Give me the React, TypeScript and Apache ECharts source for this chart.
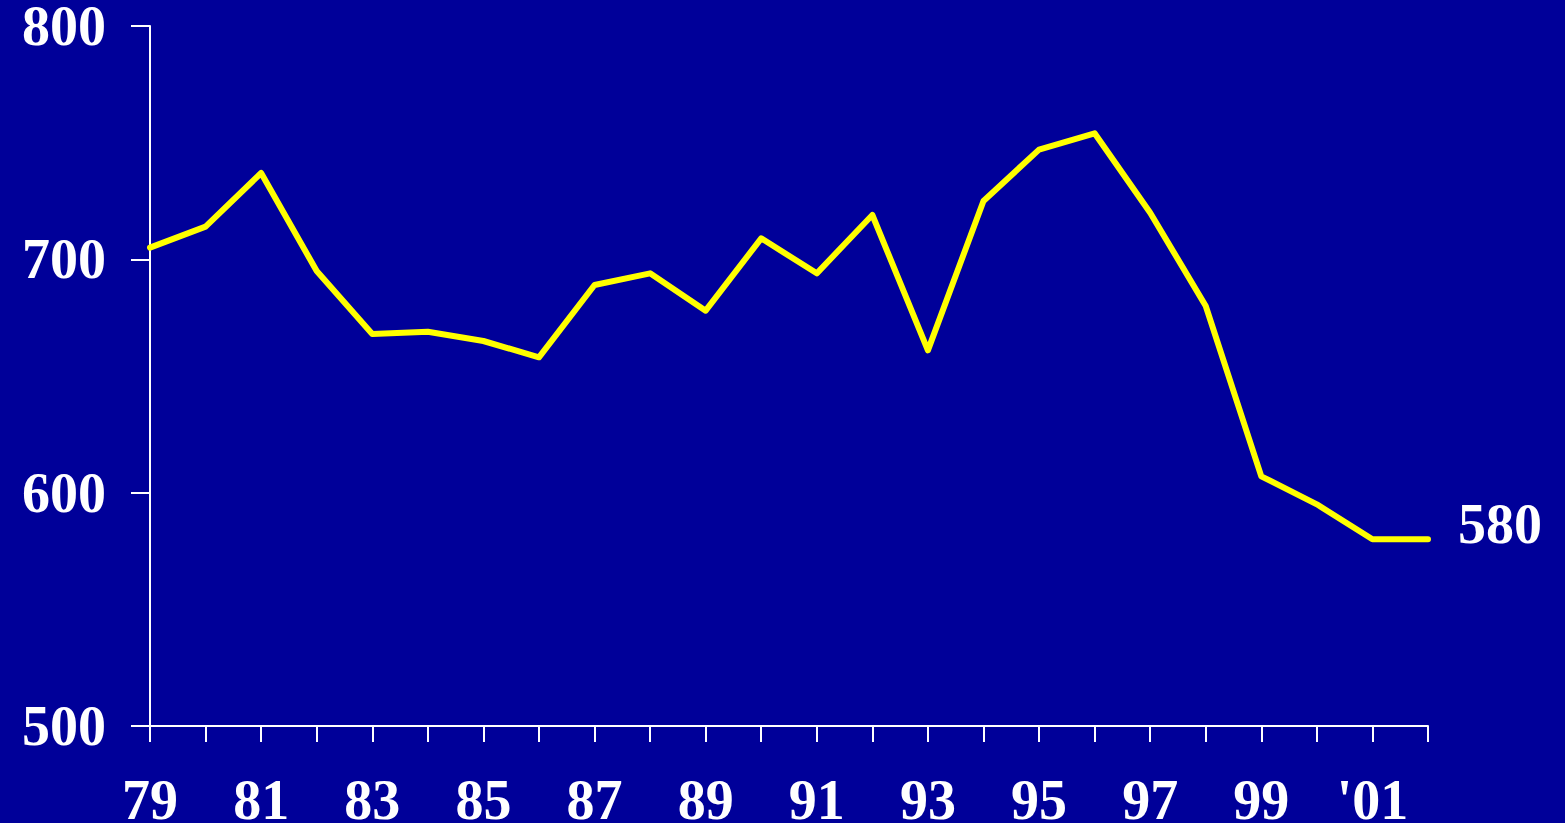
import React, { useEffect, useRef } from "react";
import * as echarts from "echarts";

const years = [
  "79", "80", "81", "82", "83", "84", "85", "86", "87", "88", "89", "90",
  "91", "92", "93", "94", "95", "96", "97", "98", "99", "'00", "'01", "'02",
];
const values = [
  705, 714, 737, 695, 668, 669, 665, 658, 689, 694, 678, 709,
  694, 719, 661, 725, 747, 754, 720, 680, 607, 595, 580, 580,
];
const yTicks = { min: 500, max: 800, interval: 100 };

const font = "'Liberation Serif', 'Times New Roman', serif";
const fs = 56;

export default function App() {
  const ref = useRef<HTMLDivElement>(null);
  useEffect(() => {
    if (!ref.current) return;
    const chart = echarts.init(ref.current, undefined, { renderer: "svg" });
    chart.setOption({
      animation: false,
      backgroundColor: "#000099",
      grid: { left: 150, right: 137, top: 26, bottom: 97, containLabel: false, outerBoundsMode: "none" },
      xAxis: {
        type: "category",
        data: years,
        boundaryGap: false,
        axisLine: { lineStyle: { color: "#ffffff", width: 2 } },
        axisTick: { interval: 0, length: 16, lineStyle: { color: "#ffffff", width: 2 } },
        axisLabel: {
          interval: 1,
          color: "#ffffff",
          fontFamily: font,
          fontWeight: "bold",
          fontSize: fs,
          lineHeight: 40,
          margin: 54,
        },
      },
      yAxis: {
        type: "value",
        min: yTicks.min,
        max: yTicks.max,
        interval: yTicks.interval,
        splitLine: { show: false },
        axisLine: { show: true, lineStyle: { color: "#ffffff", width: 2 } },
        axisTick: { show: true, length: 19, lineStyle: { color: "#ffffff", width: 2 } },
        axisLabel: {
          color: "#ffffff",
          fontFamily: font,
          fontWeight: "bold",
          fontSize: fs,
          lineHeight: 40,
          margin: 44,
        },
      },
      series: [
        {
          type: "line",
          data: values,
          symbol: "none",
          lineStyle: { color: "#ffff00", width: 6, cap: "round", join: "round" },
          endLabel: {
            show: true,
            formatter: (p: any) => String(p.value),
            color: "#ffffff",
            fontFamily: font,
            fontWeight: "bold",
            fontSize: fs,
            lineHeight: 40,
            distance: 30,
            offset: [0, -15],
          },
        },
      ],
    });
    return () => chart.dispose();
  }, []);
  return (
    <div
      ref={ref}
      style={{ position: "fixed", left: 0, top: 0, width: 1565, height: 823 }}
    />
  );
}
